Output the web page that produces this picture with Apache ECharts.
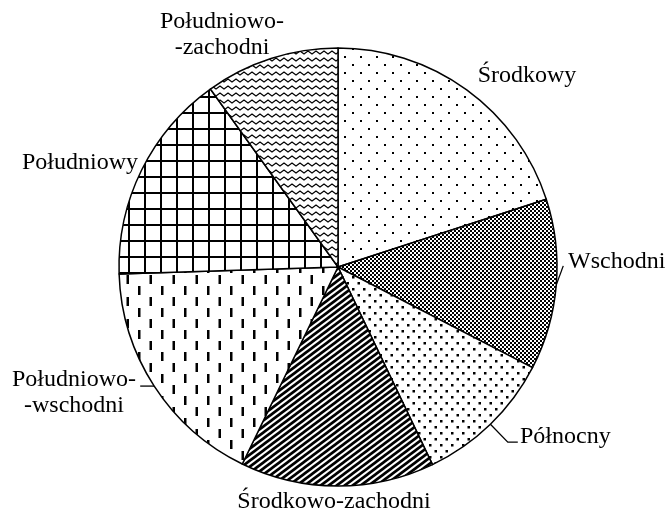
<!DOCTYPE html>
<html><head><meta charset="utf-8">
<script src="https://cdn.jsdelivr.net/npm/echarts@6/dist/echarts.min.js"></script>
<style>html,body{margin:0;padding:0;background:#fff}#c{width:668px;height:520px}</style>
</head><body><div id="c"></div>
<script>
// ---- data ----
const categories = ['Środkowy','Wschodni','Północny','Środkowo-zachodni','Południowo-wschodni','Południowy','Południowo-zachodni'];
const values = [20.0, 12.6, 10.3, 14.3, 17.3, 15.6, 9.9];
const labelTexts = ['Środkowy','Wschodni','Północny','Środkowo-zachodni','Południowo-\n-wschodni','Południowy','Południowo-\n-zachodni'];

// ---- styles ----
function tile(w,h,draw){
  const c=document.createElement('canvas');c.width=w;c.height=h;
  const g=c.getContext('2d');g.fillStyle='#fff';g.fillRect(0,0,w,h);
  g.fillStyle='#000';g.strokeStyle='#000';draw(g,w,h);
  return {image:c,repeat:'repeat'};
}
const patterns = [
  tile(16,16,g=>{g.fillRect(0,0,2,2);g.fillRect(8,8,2,2);}),
  tile(4,4,g=>{g.fillRect(0,0,2,2);g.fillRect(2,2,2,2);}),
  tile(11,12,g=>{g.fillRect(0,0,2.5,2.5);g.fillRect(5.5,6,2.5,2.5);}),
  tile(8,6,g=>{g.lineWidth=2.7;for(const ox of [-16,-8,0,8,16]){g.beginPath();g.moveTo(ox-8,12);g.lineTo(ox+16,-6);g.stroke();}}),
  tile(23,22,g=>{g.fillRect(0,0,2.5,9);g.fillRect(11.5,11,2.5,9);}),
  tile(16,16,g=>{g.fillRect(0,0,2,16);g.fillRect(0,0,16,2);}),
  tile(8,7,g=>{g.lineWidth=1.3;g.beginPath();g.moveTo(-4,2);g.lineTo(0,5);g.lineTo(4,2);g.lineTo(8,5);g.lineTo(12,2);g.stroke();})
];
// label placement: [x, y, align]
const labelPlace = [[527,76,'center'],[568,262,'left'],[520,437,'left'],[334,502,'center'],[74,393,'center'],[80,163,'center'],[222,35,'center']];
const lineStyle = {color:'#000', width:1.3};
const itemLines = {
  1:{show:true,length:5,length2:5,lineStyle},
  2:{show:true,length:25,length2:10,lineStyle},
  4:{show:true,length:1,length2:14,lineStyle}
};

const data = categories.map((n,i)=>({
  name:n, value:values[i],
  itemStyle:{color:patterns[i]},
  labelLine: itemLines[i] || {show:false}
}));

const chart = echarts.init(document.getElementById('c'), null, {renderer:'canvas'});
chart.setOption({
  animation:false,
  backgroundColor:'#fff',
  series:[{
    type:'pie',
    center:[338,267],
    radius:219,
    startAngle:90,
    clockwise:true,
    avoidLabelOverlap:false,
    minShowLabelAngle:0,
    silent:true,
    itemStyle:{borderColor:'#000',borderWidth:1.5},
    label:{
      show:true, position:'outside',
      formatter:p=>labelTexts[p.dataIndex],
      fontFamily:'Liberation Serif', fontSize:24, lineHeight:26, color:'#000'
    },
    labelLine:{show:false},
    labelLayout:function(params){
      const i=params.dataIndex, lp=labelPlace[i];
      const res={x:lp[0],y:lp[1],align:lp[2],verticalAlign:'middle'};
      const pts=params.labelLinePoints;
      if(pts && itemLines[i]){
        const p0=pts[0];
        if(i===1) res.labelLinePoints=[[p0[0],p0[1]],[p0[0]+7,p0[1]-19]];
        else if(i===2) res.labelLinePoints=pts.map(p=>[p[0],p[1]]);
        else if(i===4) res.labelLinePoints=[[p0[0],p0[1]],[p0[0]-14,p0[1]]];
      }
      return res;
    },
    data:data
  }]
});
</script></body></html>
